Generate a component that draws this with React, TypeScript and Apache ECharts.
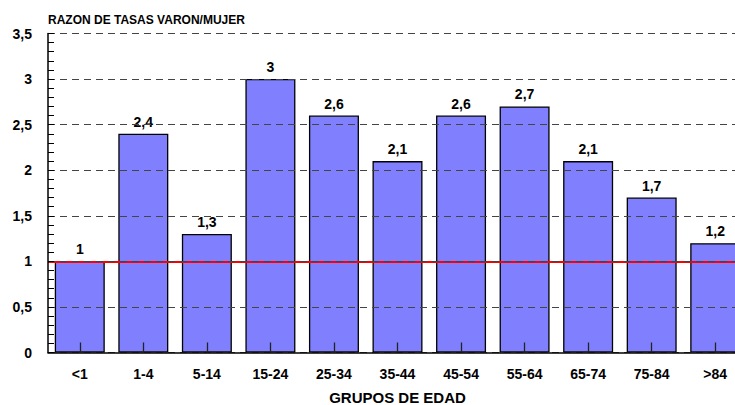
import React, { useEffect, useRef } from "react";
import * as echarts from "echarts";

const categories = ["<1", "1-4", "5-14", "15-24", "25-34", "35-44", "45-54", "55-64", "65-74", "75-84", ">84"];
const ratios = [1, 2.4, 1.3, 3, 2.6, 2.1, 2.6, 2.7, 2.1, 1.7, 1.2];
const referenceLine = 1;
const yMin = 0;
const yMax = 3.5;
const yInterval = 0.5;

const FONT = "'Liberation Sans', Arial, sans-serif";
const fmt = (v: number) => String(v).replace(".", ",");

export default function App() {
  const ref = useRef<HTMLDivElement>(null);
  useEffect(() => {
    if (!ref.current) return;
    const chart = echarts.init(ref.current, undefined, { renderer: "svg" });
    chart.setOption({
      animation: false,
      backgroundColor: "#ffffff",
      title: {
        text: "RAZON DE TASAS VARON/MUJER",
        left: 48,
        top: 14,
        padding: 0,
        textStyle: { fontFamily: FONT, fontSize: 12, fontWeight: "bold", color: "#000" },
      },
      grid: { left: 48, top: 33.5, right: 0, bottom: 52.5, containLabel: false, outerBoundsMode: "none" },
      xAxis: {
        type: "category",
        data: categories,
        z: 10,
        name: "GRUPOS DE EDAD",
        nameLocation: "middle",
        nameGap: 37,
        nameTextStyle: { fontFamily: FONT, fontSize: 15, fontWeight: "bold", color: "#000", lineHeight: 15 },
        axisLine: { show: true, lineStyle: { color: "#000", width: 1.5 } },
        axisTick: { show: true, inside: true, alignWithLabel: true, length: 10, lineStyle: { color: "#222", width: 1.3 } },
        axisLabel: { fontFamily: FONT, fontSize: 14, fontWeight: "bold", color: "#000", margin: 14 },
        splitLine: { show: false },
      },
      yAxis: {
        type: "value",
        min: yMin,
        max: yMax,
        interval: yInterval,
        z: 10,
        axisLine: { show: true, lineStyle: { color: "#000", width: 1.5 } },
        axisTick: { show: true, inside: true, length: 6, lineStyle: { color: "#000" } },
        minorTick: { show: true, splitNumber: 5, length: 6, lineStyle: { color: "#000" } },
        axisLabel: {
          fontFamily: FONT,
          fontSize: 14,
          fontWeight: "bold",
          color: "#000",
          margin: 16,
          formatter: (v: number) => fmt(v),
        },
        splitLine: { show: true, lineStyle: { color: "#444", type: [7, 5], width: 1 } },
      },
      series: [
        {
          type: "bar",
          data: ratios,
          barWidth: 50,
          itemStyle: { color: "#8080ff", borderColor: "#000", borderWidth: 1.3 },
          label: {
            show: true,
            position: "top",
            distance: 5,
            fontFamily: FONT,
            fontSize: 14,
            fontWeight: "bold",
            color: "#000",
            formatter: (p: any) => fmt(p.value),
          },
          markLine: {
            silent: true,
            symbol: "none",
            label: { show: false },
            lineStyle: { color: "#ff0000", width: 2, type: "solid" },
            data: [{ yAxis: referenceLine }],
          },
        },
      ],
    });
    return () => chart.dispose();
  }, []);
  return (
    <div style={{ position: "fixed", left: 0, top: 0, width: 735, height: 405, overflow: "hidden" }}>
      <div ref={ref} style={{ width: 747, height: 405 }} />
    </div>
  );
}
